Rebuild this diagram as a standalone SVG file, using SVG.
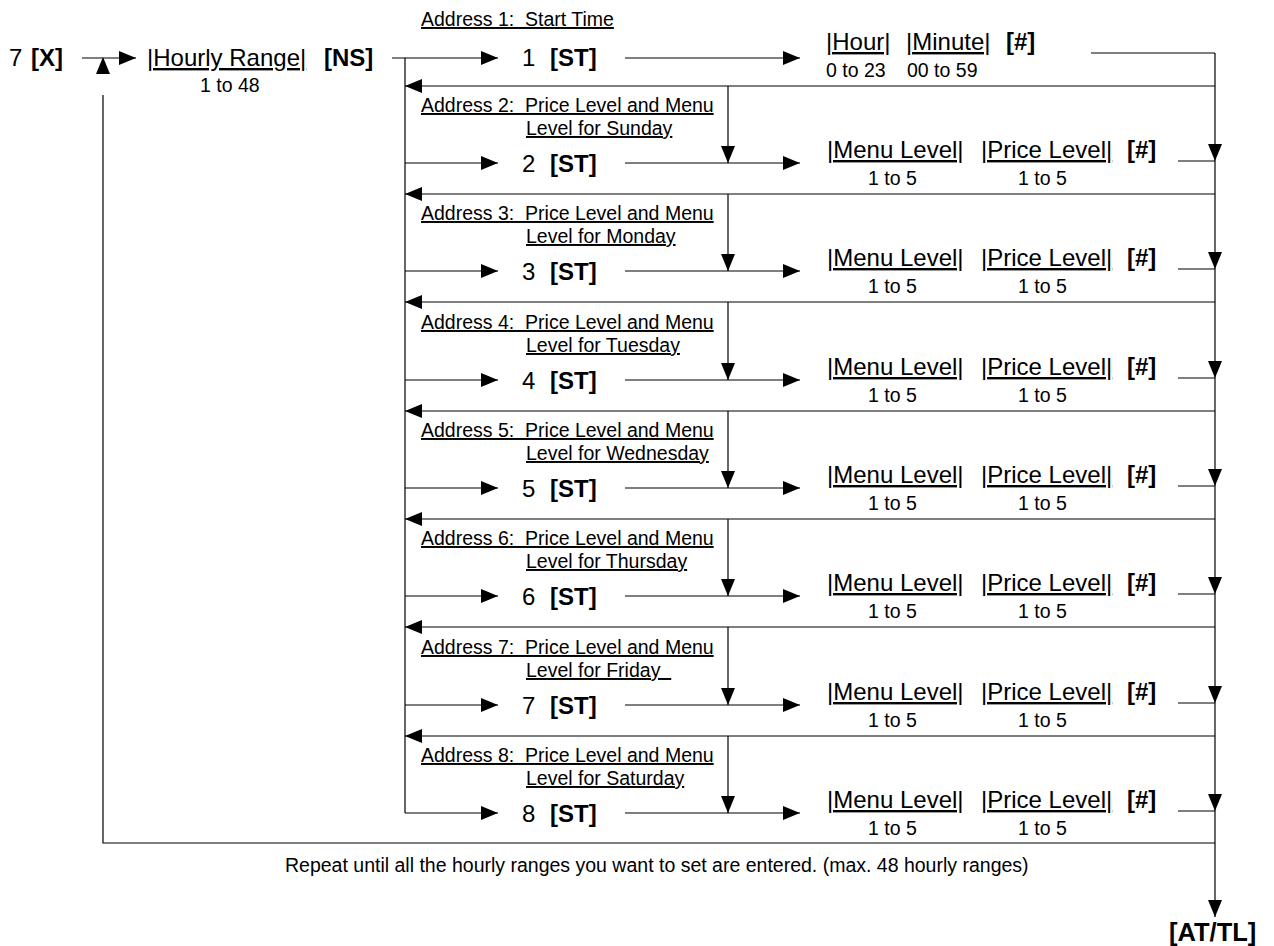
<svg xmlns="http://www.w3.org/2000/svg" width="1274" height="946" viewBox="0 0 1274 946">
<style>
text{font-family:"Liberation Sans",Arial,Helvetica,sans-serif;fill:#000;white-space:pre}
.s{font-size:19.5px}
.l{font-size:24px}
.b{font-weight:bold}
.u{text-decoration:underline}
.c line,.c path,.c polyline{stroke:#000;stroke-width:1.2;fill:none}
.a{marker-end:url(#ah)}
</style>
<defs>
<marker id="ah" viewBox="0 0 17 14" refX="17" refY="7" markerWidth="17" markerHeight="14" markerUnits="userSpaceOnUse" orient="auto"><path d="M0,0 L17,7 L0,14 Z" fill="#000"/></marker>
</defs>
<rect width="1274" height="946" fill="#fff"/>

<g id="connectors" class="c">
<line class="a" x1="82" y1="58" x2="136" y2="58"/>
<polyline points="103,95 103,843 1215,843"/>
<polygon points="103,57 96,74 110,74" fill="#000" stroke="none"/>
<polyline points="392,58 405,58 405,813"/>
<line class="a" x1="405" y1="58" x2="498" y2="58"/>
<line class="a" x1="625" y1="58" x2="800" y2="58"/>
<polyline points="1091,53 1215,53"/>
<line class="a" x1="1215" y1="86" x2="405" y2="86"/>
<line class="a" x1="1215" y1="53" x2="1215" y2="161"/>
<line class="a" x1="1215" y1="161" x2="1215" y2="269"/>
<line class="a" x1="1215" y1="269" x2="1215" y2="378"/>
<line class="a" x1="1215" y1="378" x2="1215" y2="486"/>
<line class="a" x1="1215" y1="486" x2="1215" y2="594"/>
<line class="a" x1="1215" y1="594" x2="1215" y2="703"/>
<line class="a" x1="1215" y1="703" x2="1215" y2="811"/>
<line class="a" x1="1215" y1="811" x2="1215" y2="917"/>
<line class="a" x1="405" y1="163" x2="498" y2="163"/><line class="a" x1="625" y1="163" x2="800" y2="163"/><line class="a" x1="728" y1="86" x2="728" y2="163"/><line x1="1178" y1="161" x2="1215" y2="161"/><line class="a" x1="1215" y1="194" x2="405" y2="194"/>
<line class="a" x1="405" y1="271" x2="498" y2="271"/><line class="a" x1="625" y1="271" x2="800" y2="271"/><line class="a" x1="728" y1="194" x2="728" y2="271"/><line x1="1178" y1="269" x2="1215" y2="269"/><line class="a" x1="1215" y1="302" x2="405" y2="302"/>
<line class="a" x1="405" y1="380" x2="498" y2="380"/><line class="a" x1="625" y1="380" x2="800" y2="380"/><line class="a" x1="728" y1="302" x2="728" y2="380"/><line x1="1178" y1="378" x2="1215" y2="378"/><line class="a" x1="1215" y1="411" x2="405" y2="411"/>
<line class="a" x1="405" y1="488" x2="498" y2="488"/><line class="a" x1="625" y1="488" x2="800" y2="488"/><line class="a" x1="728" y1="411" x2="728" y2="488"/><line x1="1178" y1="486" x2="1215" y2="486"/><line class="a" x1="1215" y1="519" x2="405" y2="519"/>
<line class="a" x1="405" y1="596" x2="498" y2="596"/><line class="a" x1="625" y1="596" x2="800" y2="596"/><line class="a" x1="728" y1="519" x2="728" y2="596"/><line x1="1178" y1="594" x2="1215" y2="594"/><line class="a" x1="1215" y1="627" x2="405" y2="627"/>
<line class="a" x1="405" y1="705" x2="498" y2="705"/><line class="a" x1="625" y1="705" x2="800" y2="705"/><line class="a" x1="728" y1="627" x2="728" y2="705"/><line x1="1178" y1="703" x2="1215" y2="703"/><line class="a" x1="1215" y1="736" x2="405" y2="736"/>
<line class="a" x1="405" y1="813" x2="498" y2="813"/><line class="a" x1="625" y1="813" x2="800" y2="813"/><line class="a" x1="728" y1="736" x2="728" y2="813"/><line x1="1178" y1="811" x2="1215" y2="811"/>
</g>

<g id="start"><text class="l" x="9" y="66">7</text><text class="l b" x="31" y="66">[X]</text></g>
<g id="hourly-range"><text class="l u" x="147" y="66">|Hourly Range|</text><text class="l b" x="324" y="66">[NS]</text><text class="s" x="200" y="92">1 to 48</text></g>

<g id="address1">
<text class="s u" x="421" y="26">Address 1:  Start Time</text>
<text class="l" x="522" y="66">1</text><text class="l b" x="550" y="66">[ST]</text>
<text class="l u" x="826" y="50">|Hour|</text><text class="l u" x="906" y="50">|Minute|</text><text class="l b" x="1006" y="50">[#]</text>
<text class="s" x="826" y="77">0 to 23</text><text class="s" x="907" y="77">00 to 59</text>
</g>

<g id="address2" transform="translate(0,163)">
<text class="s u" x="421" y="-51">Address 2:  Price Level and Menu</text><text class="s u" x="526" y="-28">Level for Sunday</text>
<text class="l" x="522" y="9">2</text><text class="l b" x="550" y="9">[ST]</text>
<text class="l u" x="827" y="-5">|Menu Level|</text><text class="l u" x="981" y="-5">|Price Level|</text><text class="l b" x="1127" y="-5">[#]</text>
<text class="s" x="868" y="22">1 to 5</text><text class="s" x="1018" y="22">1 to 5</text>
</g>
<g id="address3" transform="translate(0,271)">
<text class="s u" x="421" y="-51">Address 3:  Price Level and Menu</text><text class="s u" x="526" y="-28">Level for Monday</text>
<text class="l" x="522" y="9">3</text><text class="l b" x="550" y="9">[ST]</text>
<text class="l u" x="827" y="-5">|Menu Level|</text><text class="l u" x="981" y="-5">|Price Level|</text><text class="l b" x="1127" y="-5">[#]</text>
<text class="s" x="868" y="22">1 to 5</text><text class="s" x="1018" y="22">1 to 5</text>
</g>
<g id="address4" transform="translate(0,380)">
<text class="s u" x="421" y="-51">Address 4:  Price Level and Menu</text><text class="s u" x="526" y="-28">Level for Tuesday</text>
<text class="l" x="522" y="9">4</text><text class="l b" x="550" y="9">[ST]</text>
<text class="l u" x="827" y="-5">|Menu Level|</text><text class="l u" x="981" y="-5">|Price Level|</text><text class="l b" x="1127" y="-5">[#]</text>
<text class="s" x="868" y="22">1 to 5</text><text class="s" x="1018" y="22">1 to 5</text>
</g>
<g id="address5" transform="translate(0,488)">
<text class="s u" x="421" y="-51">Address 5:  Price Level and Menu</text><text class="s u" x="526" y="-28">Level for Wednesday</text>
<text class="l" x="522" y="9">5</text><text class="l b" x="550" y="9">[ST]</text>
<text class="l u" x="827" y="-5">|Menu Level|</text><text class="l u" x="981" y="-5">|Price Level|</text><text class="l b" x="1127" y="-5">[#]</text>
<text class="s" x="868" y="22">1 to 5</text><text class="s" x="1018" y="22">1 to 5</text>
</g>
<g id="address6" transform="translate(0,596)">
<text class="s u" x="421" y="-51">Address 6:  Price Level and Menu</text><text class="s u" x="526" y="-28">Level for Thursday</text>
<text class="l" x="522" y="9">6</text><text class="l b" x="550" y="9">[ST]</text>
<text class="l u" x="827" y="-5">|Menu Level|</text><text class="l u" x="981" y="-5">|Price Level|</text><text class="l b" x="1127" y="-5">[#]</text>
<text class="s" x="868" y="22">1 to 5</text><text class="s" x="1018" y="22">1 to 5</text>
</g>
<g id="address7" transform="translate(0,705)">
<text class="s u" x="421" y="-51">Address 7:  Price Level and Menu</text><text class="s u" x="526" y="-28">Level for Friday  </text>
<text class="l" x="522" y="9">7</text><text class="l b" x="550" y="9">[ST]</text>
<text class="l u" x="827" y="-5">|Menu Level|</text><text class="l u" x="981" y="-5">|Price Level|</text><text class="l b" x="1127" y="-5">[#]</text>
<text class="s" x="868" y="22">1 to 5</text><text class="s" x="1018" y="22">1 to 5</text>
</g>
<g id="address8" transform="translate(0,813)">
<text class="s u" x="421" y="-51">Address 8:  Price Level and Menu</text><text class="s u" x="526" y="-28">Level for Saturday</text>
<text class="l" x="522" y="9">8</text><text class="l b" x="550" y="9">[ST]</text>
<text class="l u" x="827" y="-5">|Menu Level|</text><text class="l u" x="981" y="-5">|Price Level|</text><text class="l b" x="1127" y="-5">[#]</text>
<text class="s" x="868" y="22">1 to 5</text><text class="s" x="1018" y="22">1 to 5</text>
</g>

<g id="repeat-note"><text class="s" x="285" y="872">Repeat until all the hourly ranges you want to set are entered. (max. 48 hourly ranges)</text></g>
<g id="end"><text class="b" x="1169" y="941" style="font-size:25.5px">[AT/TL]</text></g>
</svg>
